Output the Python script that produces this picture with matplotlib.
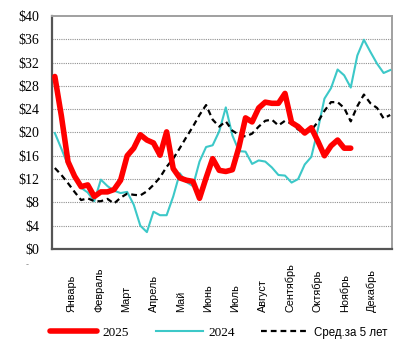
import numpy as np
import matplotlib
matplotlib.use("Agg")
import matplotlib.pyplot as plt
import matplotlib.transforms as mtransforms

# weekly prices, $ (week 1..52)
weeks = np.arange(1, 53)

price_2025 = [29.6, 22.8, 15.0, 12.5, 10.7, 11.0, 9.0, 9.8, 9.8, 10.2,
              11.8, 16.0, 17.3, 19.6, 18.7, 18.2, 16.1, 20.1, 13.8, 12.2,
              11.8, 11.6, 8.7, 12.2, 15.5, 13.5, 13.3, 13.6, 17.5, 22.5,
              21.8, 24.2, 25.2, 25.0, 25.0, 26.7, 21.7, 21.0, 19.9, 20.8,
              18.5, 16.0, 17.7, 18.7, 17.3, 17.3]

price_2024 = [19.9, 17.2, 14.4, 12.2, 10.5, 9.7, 8.2, 11.9, 10.8, 10.0,
              9.6, 9.8, 7.6, 4.0, 2.9, 6.4, 5.8, 5.8, 9.0, 13.0,
              11.5, 10.8, 15.0, 17.5, 17.8, 20.2, 24.3, 19.5, 16.8, 16.7,
              14.6, 15.2, 15.0, 14.0, 12.7, 12.6, 11.4, 12.0, 14.5, 15.8,
              20.5, 25.8, 27.6, 30.8, 29.8, 27.7, 33.2, 35.9, 33.8, 31.8,
              30.2, 30.7]

avg_5y = [13.9, 12.7, 11.3, 9.8, 8.4, 8.7, 8.2, 8.2, 8.6, 7.8,
          8.8, 9.5, 9.3, 9.2, 9.9, 11.0, 12.3, 14.1, 15.5, 17.3,
          19.2, 21.0, 23.0, 24.7, 22.2, 21.0, 21.9, 20.3, 19.6, 19.3,
          19.8, 21.0, 22.0, 22.2, 21.2, 22.0, 21.5, 20.5, 19.9, 20.4,
          21.8, 23.7, 25.2, 25.2, 24.2, 21.9, 24.5, 26.5, 25.0, 24.2,
          22.4, 23.0]

months = ["Январь", "Февраль", "Март", "Апрель", "Май", "Июнь",
          "Июль", "Август", "Сентябрь", "Октябрь", "Ноябрь", "Декабрь"]

y_ticks = np.arange(0, 41, 4)

fig = plt.figure(figsize=(4.15, 3.49), dpi=100)
ax = fig.add_axes([0.125, 0.2865, 0.82, 0.668])

ax.plot(weeks[:len(price_2025)], price_2025, color="#ff0000", lw=4.0,
        solid_joinstyle="round", solid_capstyle="round", label="2025", zorder=4)
ax.plot(weeks, price_2024, color="#3cc8c8", lw=1.5,
        solid_joinstyle="round", label="2024", zorder=3)
ax.plot(weeks, avg_5y, color="black", lw=1.6, dashes=(2.6, 1.8),
        label="Сред.за 5 лет", zorder=3)

ax.set_xlim(0.55, 52.3)
ax.set_ylim(0, 40)
ax.set_yticks(y_ticks)
ax.set_yticklabels([f"${v}" for v in y_ticks], family="Liberation Serif", fontsize=10)
ax.tick_params(axis="y", length=0, pad=9)
ax.set_xticks([])

for v in y_ticks[1:-1]:
    ax.axhline(v, color="#909090", lw=0.8, ls=(0, (1, 1)), zorder=1)

for side in ["left", "bottom"]:
    ax.spines[side].set_color("#555555")
    ax.spines[side].set_linewidth(1.6)
for side in ["top", "right"]:
    ax.spines[side].set_color("#a0a0a0")
    ax.spines[side].set_linewidth(1.4)

# month labels under the axis, rotated and bottom-aligned
month_pos = np.linspace(3.6, 49.2, len(months))
trans = mtransforms.blended_transform_factory(ax.transData, ax.transAxes)
for xpos, name in zip(month_pos, months):
    ax.text(xpos, -0.27, name, transform=trans, rotation=90, ha="center",
            va="bottom", fontsize=7.8, family="Liberation Sans", color="black")

fig.text(0.066, 0.243, "-", fontsize=6, color="#888888", ha="center", va="center")

leg = fig.legend(loc="center", bbox_to_anchor=(0.527, 0.046), ncol=3, frameon=False,
                 handlelength=3.6, handletextpad=0.4, columnspacing=2.0, fontsize=9.5)
for txt in leg.get_texts()[:2]:
    txt.set_family("Liberation Serif")
leg.get_texts()[2].set_family("Liberation Sans")
leg.get_texts()[2].set_fontsize(8.3)

fig.savefig("out.png", dpi=100)
